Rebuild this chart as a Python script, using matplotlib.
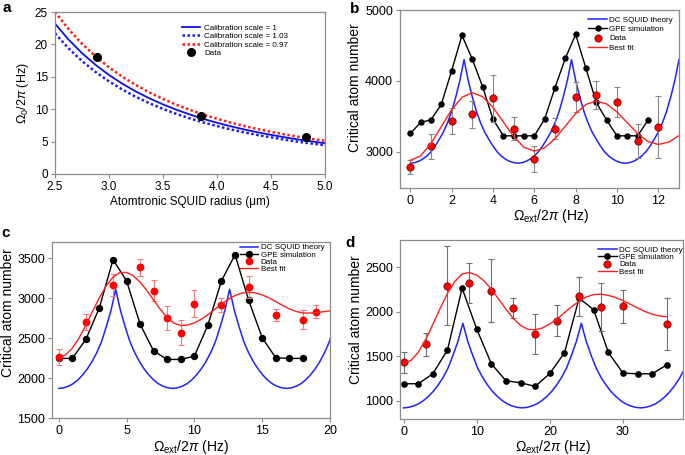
import numpy as np
import matplotlib
matplotlib.use("Agg")
import matplotlib.pyplot as plt

plt.rcParams['font.family'] = ['Liberation Sans', 'DejaVu Sans']
plt.rcParams['mathtext.fontset'] = 'custom'
plt.rcParams['mathtext.rm'] = 'Liberation Sans'
plt.rcParams['mathtext.it'] = 'Liberation Sans:italic'
plt.rcParams['font.size'] = 8

# ---- panel a ----
a_radius = [2.5, 2.625, 2.75, 2.875, 3.0, 3.125, 3.25, 3.375, 3.5, 3.625, 3.75,
            3.875, 4.0, 4.125, 4.25, 4.375, 4.5, 4.625, 4.75, 4.875, 5.0]
a_scale1 = [23.2, 20.75, 18.65, 16.85, 15.28, 13.92, 12.72, 11.67, 10.74, 9.91, 9.17,
            8.50, 7.91, 7.37, 6.88, 6.44, 6.04, 5.67, 5.33, 5.03, 4.75]
a_scale103 = [21.7, 19.4, 17.44, 15.75, 14.29, 13.02, 11.89, 10.91, 10.04, 9.27, 8.57,
              7.95, 7.40, 6.89, 6.43, 6.02, 5.65, 5.30, 4.98, 4.70, 4.44]
a_scale097 = [25.0, 22.37, 20.10, 18.16, 16.47, 15.01, 13.71, 12.58, 11.58, 10.68, 9.89,
              9.16, 8.53, 7.94, 7.42, 6.94, 6.51, 6.11, 5.75, 5.42, 5.12]
a_data_r = [2.89, 3.85, 4.82]
a_data_f = [18.1, 9.0, 5.7]

# ---- panel b ----
b_theory_x = np.linspace(0, 13, 66)
b_theory = [2840, 2847, 2866, 2898, 2942, 3001, 3081, 3176, 3278, 3409, 3570, 3774, 4008, 4300,
            4008, 3774, 3570, 3409, 3278, 3176, 3081, 3001, 2942, 2898, 2866, 2847, 2840,
            2847, 2866, 2898, 2942, 3001, 3081, 3176, 3278, 3409, 3570, 3774, 4008, 4300,
            4008, 3774, 3570, 3409, 3278, 3176, 3081, 3001, 2942, 2898, 2866, 2847, 2840,
            2847, 2866, 2898, 2942, 3001, 3081, 3176, 3278, 3409, 3570, 3774, 4008, 4300]
b_gpe_x = [0, 0.5, 1, 1.5, 2, 2.5, 3, 3.5, 4, 4.5, 5, 5.5, 6, 6.5, 7, 7.5, 8, 8.5,
           9, 9.5, 10, 10.5, 11, 11.5]
b_gpe = [3259, 3414, 3452, 3668, 4144, 4642, 4308, 3918, 3461, 3226, 3226, 3226, 3226,
         3461, 3904, 4318, 4656, 4176, 3696, 3447, 3226, 3226, 3226, 3447]
b_data_x = [0, 1, 2, 3, 4, 5, 6, 7, 8, 9, 10, 11, 12]
b_data = [2788, 3080, 3433, 3527, 3753, 3325, 2896, 3325, 3776, 3800, 3706, 3150, 3353]
b_err = [100, 175, 185, 190, 330, 165, 180, 150, 215, 200, 215, 240, 440]
b_fit_x = [0, 0.5, 1, 1.5, 2, 2.5, 3, 3.5, 4, 4.5, 5, 5.5, 6, 6.5, 7, 7.5, 8, 8.5, 9,
           9.5, 10, 10.5, 11, 11.5, 12, 12.5, 13]
b_fit = [2880, 2943, 3118, 3356, 3594, 3769, 3833, 3778, 3627, 3421, 3216, 3065, 3010,
         3057, 3186, 3363, 3540, 3669, 3716, 3675, 3563, 3410, 3257, 3145, 3104, 3137, 3228]

# ---- panel c ----
c_theory_x = np.linspace(0, 20.3, 59)
c_theory = [1870, 1877, 1897, 1928, 1975, 2037, 2112, 2205, 2316, 2453, 2639, 2843, 3110,
            2843, 2639, 2453, 2316, 2205, 2112, 2037, 1975, 1928, 1897, 1877, 1870,
            1877, 1897, 1928, 1975, 2037, 2112, 2205, 2316, 2453, 2639, 2843, 3110,
            2843, 2639, 2453, 2316, 2205, 2112, 2037, 1975, 1928, 1897, 1877, 1870,
            1877, 1897, 1928, 1975, 2037, 2112, 2205, 2316, 2453, 2639]
c_gpe_x = list(range(19))
c_gpe = [2245, 2245, 2483, 2881, 3479, 3215, 2672, 2337, 2232, 2232, 2274, 2663, 3215,
         3542, 2973, 2504, 2253, 2245, 2245]
c_data_x = [0, 2, 4, 6, 7, 8, 9, 10, 12, 14, 16, 18, 19]
c_data = [2257, 2697, 3165, 3383, 3090, 2755, 2567, 2927, 2914, 3140, 2789, 2730, 2831]
c_err = [100, 100, 140, 110, 130, 150, 160, 170, 90, 135, 75, 115, 85]
c_fit_x = [0, 0.5, 1, 1.5, 2, 2.5, 3, 3.5, 4, 4.5, 5, 5.5, 6, 6.5, 7, 7.5, 8, 8.5, 9, 9.5,
           10, 10.5, 11, 11.5, 12, 12.5, 13, 13.5, 14, 14.5, 15, 15.5, 16, 16.5, 17, 17.5,
           18, 18.5, 19, 19.5, 20]
c_fit = [2260, 2289, 2372, 2502, 2661, 2836, 3005, 3152, 3260, 3317, 3320, 3277, 3198,
         3093, 2972, 2856, 2754, 2686, 2656, 2662, 2689, 2734, 2791, 2858, 2924, 2984,
         3031, 3062, 3073, 3064, 3039, 3002, 2956, 2908, 2865, 2832, 2813, 2812, 2818,
         2828, 2839]

# ---- panel d ----
d_theory_x = np.linspace(0, 38.475, 58)
d_theory = [920, 926, 941, 965, 1001, 1048, 1105, 1177, 1262, 1367, 1509, 1666, 1870,
            1666, 1509, 1367, 1262, 1177, 1105, 1048, 1001, 965, 941, 926, 920,
            926, 941, 965, 1001, 1048, 1105, 1177, 1262, 1367, 1509, 1666, 1870,
            1666, 1509, 1367, 1262, 1177, 1105, 1048, 1001, 965, 941, 926, 920,
            926, 941, 965, 1001, 1048, 1105, 1177, 1262, 1367]
d_gpe_x = list(range(0, 37, 2))
d_gpe = [1191, 1191, 1303, 1572, 2264, 1804, 1415, 1224, 1202, 1161, 1307, 1539, 2152,
         2021, 1542, 1310, 1303, 1303, 1404]
d_data_x = [0, 3, 6, 9, 12, 15, 18, 21, 24, 27, 30, 36]
d_data = [1430, 1636, 2294, 2321, 2238, 2040, 1752, 1898, 2171, 2051, 2059, 1860]
d_err = [115, 130, 445, 225, 355, 110, 225, 175, 215, 270, 185, 290]
d_fit_x = list(range(37))
d_fit = [1420, 1452, 1544, 1686, 1858, 2038, 2205, 2339, 2424, 2439, 2411, 2346, 2251,
         2141, 2027, 1924, 1846, 1802, 1797, 1818, 1862, 1921, 1989, 2058, 2120, 2166,
         2193, 2196, 2183, 2159, 2124, 2084, 2042, 2003, 1972, 1952, 1945]

fig = plt.figure(figsize=(6.85, 4.55), dpi=100)
gray = '#8c8c8c'
leg_fs = 5.8
lab_fs = 10
tick_fs = 9


def style(ax, size=tick_fs):
    for s in ax.spines.values():
        s.set_color(gray)
        s.set_linewidth(0.9)
    ax.tick_params(direction='out', length=3, width=0.8, color=gray, labelsize=size, pad=2)


def freq_axes(ax, xl_x, xl_y, yl_x, yl_y):
    ax.set_xlabel(r'$\Omega_{\rm ext}$/2$\pi$ (Hz)', fontsize=lab_fs)
    ax.set_ylabel('Critical atom number', fontsize=lab_fs)
    ax.xaxis.set_label_coords(xl_x, xl_y)
    ax.yaxis.set_label_coords(yl_x, yl_y)
    style(ax)


# a
ax = fig.add_axes([0.0803, 0.6176, 0.3942, 0.3560])
ax.plot(a_radius, a_scale1, color='#1010e0', lw=1.3, label='Calibration scale = 1')
ax.plot(a_radius, a_scale103, color='#1a1aff', lw=1.8, ls=(0, (1, 1)), label='Calibration scale = 1.03')
ax.plot(a_radius, a_scale097, color='#ff1a1a', lw=1.8, ls=(0, (1, 1)), label='Calibration scale = 0.97')
ax.plot(a_data_r, a_data_f, 'o', color='black', ms=5.5, label='Data')
ax.set_xlim(2.5, 5.0)
ax.set_ylim(0, 25)
ax.set_xticks([2.5, 3.0, 3.5, 4.0, 4.5, 5.0])
ax.set_xticklabels(['2.5', '3.0', '3.5', '4.0', '4.5', '5.0'])
ax.set_yticks([0, 5, 10, 15, 20, 25])
ax.set_xlabel('Atomtronic SQUID radius (\u03bcm)', fontsize=8.5, labelpad=2)
ax.set_ylabel(r'$\Omega_0$/2$\pi$ (Hz)', fontsize=9, labelpad=3)
style(ax, 8.5)
ax.legend(loc='upper left', bbox_to_anchor=(0.47, 0.925), frameon=False, fontsize=leg_fs,
          handlelength=2.3, handletextpad=0.5, labelspacing=0.1, borderpad=0, borderaxespad=0)

# b
ax = fig.add_axes([0.5839, 0.5868, 0.4073, 0.3912])
ax.plot(b_theory_x, b_theory, color='#2222ff', lw=1.1, label='DC SQUID theory')
ax.plot(b_gpe_x, b_gpe, '-o', color='black', lw=1, ms=3.6, label='GPE simulation')
ax.errorbar(b_data_x, b_data, yerr=b_err, fmt='none', ecolor='#888888', elinewidth=0.8,
            capsize=2.3, capthick=0.8)
ax.plot(b_data_x, b_data, 'o', color='red', mec='#600000', mew=0.5, ms=5.3, label='Data')
ax.plot(b_fit_x, b_fit, color='#ff2020', lw=1.0, label='Best fit')
ax.set_xlim(-0.5, 13)
ax.set_ylim(2490, 5000)
ax.set_xticks([0, 2, 4, 6, 8, 10, 12])
ax.set_yticks([3000, 4000, 5000])
freq_axes(ax, 0.541, -0.105, -0.136, 0.565)
ax.legend(loc='upper left', bbox_to_anchor=(0.675, 0.965), frameon=False, fontsize=leg_fs,
          handlelength=2.3, handletextpad=0.3, labelspacing=0.2, borderpad=0, borderaxespad=0)

# c
ax = fig.add_axes([0.0759, 0.0813, 0.4058, 0.3868])
ax.plot(c_theory_x, c_theory, color='#2222ff', lw=1.1, label='DC SQUID theory')
ax.plot(c_gpe_x, c_gpe, '-o', color='black', lw=1, ms=4.3, label='GPE simulation')
ax.errorbar(c_data_x, c_data, yerr=c_err, fmt='none', ecolor='#f47c7c', elinewidth=0.8,
            capsize=2.3, capthick=0.8)
ax.plot(c_data_x, c_data, 'o', color='red', ms=4.6, label='Data')
ax.plot(c_fit_x, c_fit, color='#ff2020', lw=1.0, label='Best fit')
ax.set_xlim(-0.5, 20)
ax.set_ylim(1500, 3700)
ax.set_xticks([0, 5, 10, 15, 20])
ax.set_yticks([1500, 2000, 2500, 3000, 3500])
freq_axes(ax, 0.5, -0.112, -0.133, 0.60)
ax.legend(loc='upper left', bbox_to_anchor=(0.675, 0.99), frameon=False, fontsize=leg_fs,
          handlelength=2.3, handletextpad=0.3, labelspacing=-0.05, borderpad=0, borderaxespad=0)

# d
ax = fig.add_axes([0.5839, 0.0791, 0.4131, 0.3934])
ax.plot(d_theory_x, d_theory, color='#2222ff', lw=1.1, label='DC SQUID theory')
ax.plot(d_gpe_x, d_gpe, '-o', color='black', lw=1, ms=3.8, label='GPE simulation')
ax.errorbar(d_data_x, d_data, yerr=d_err, fmt='none', ecolor='#707070', elinewidth=0.8,
            capsize=2.3, capthick=0.8)
ax.plot(d_data_x, d_data, 'o', color='red', mec='#600000', mew=0.5, ms=5.3, label='Data')
ax.plot(d_fit_x, d_fit, color='#ff2020', lw=1.0, label='Best fit')
ax.set_xlim(-0.5, 38.2)
ax.set_ylim(795, 2805)
ax.set_xticks([0, 10, 20, 30])
ax.set_yticks([1000, 1500, 2000, 2500])
freq_axes(ax, 0.541, -0.108, -0.131, 0.555)
ax.legend(loc='upper left', bbox_to_anchor=(0.700, 0.965), frameon=False, fontsize=leg_fs,
          handlelength=2.3, handletextpad=0.3, labelspacing=-0.05, borderpad=0, borderaxespad=0)

fig.text(0.003, 0.9736, 'a', fontsize=11, fontweight='bold', va='baseline')
fig.text(0.511, 0.9714, 'b', fontsize=11, fontweight='bold', va='baseline')
fig.text(0.002, 0.479, 'c', fontsize=11, fontweight='bold', va='baseline')
fig.text(0.5036, 0.457, 'd', fontsize=11, fontweight='bold', va='baseline')

fig.savefig('out.png', dpi=100)
